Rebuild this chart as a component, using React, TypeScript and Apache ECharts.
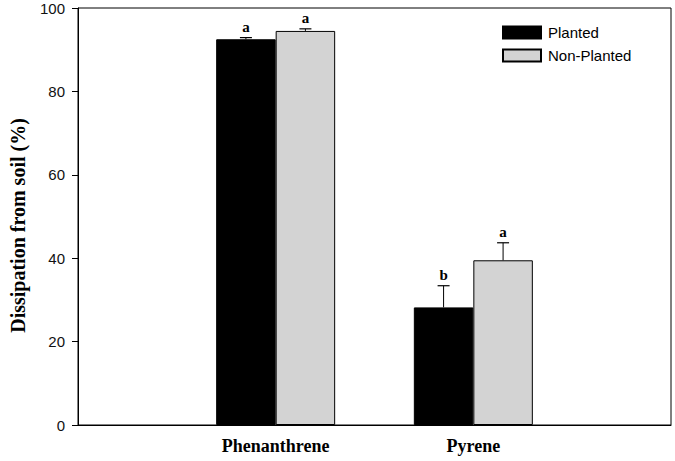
import React, { useEffect, useRef } from "react";
import * as echarts from "echarts";

const categories = ["Phenanthrene", "Pyrene"];
const seriesNames = ["Planted", "Non-Planted"];
const plantedMean = [92.5, 28.2];
const plantedErr = [0.4, 5.2];
const nonPlantedMean = [94.5, 39.5];
const nonPlantedErr = [0.5, 4.2];
const plantedLetters = ["a", "b"];
const nonPlantedLetters = ["a", "a"];
const yTicks = { min: 0, max: 100, interval: 20 };

const BAR_W = 59.5;

function errSeries(name: string, means: number[], errs: number[], letters: string[], offset: number) {
  return {
    type: "custom",
    name,
    z: 5,
    data: means.map((m, i) => [i + 1, m, m + errs[i]]),
    renderItem: (params: any, api: any) => {
      const idx = api.value(0);
      const mean = api.value(1);
      const top = api.value(2);
      const base = api.coord([idx, mean]);
      const tip = api.coord([idx, top]);
      const x = base[0] + offset;
      return {
        type: "group",
        children: [
          { type: "line", shape: { x1: x, y1: base[1], x2: x, y2: tip[1] }, style: { stroke: "#000", lineWidth: 1 } },
          { type: "line", shape: { x1: x - 6, y1: tip[1], x2: x + 6, y2: tip[1] }, style: { stroke: "#000", lineWidth: 1.2 } },
          {
            type: "text",
            x,
            y: tip[1] - 3,
            style: {
              text: letters[params.dataIndex],
              textAlign: "center",
              textVerticalAlign: "bottom",
              font: 'bold 15px "Liberation Serif", "Times New Roman", serif',
              fill: "#000",
            },
          },
        ],
      };
    },
  };
}

export default function App() {
  const ref = useRef<HTMLDivElement>(null);
  useEffect(() => {
    document.body.style.margin = "0";
    const chart = echarts.init(ref.current!, null, { renderer: "svg" });
    const axisData = ["", ...categories, ""];
    chart.setOption({
      animation: false,
      backgroundColor: "#fff",
      grid: { left: 77, right: 4, top: 8, bottom: 36, show: true, borderColor: "#000", borderWidth: 1 },
      legend: {
        data: seriesNames.map((n) => ({ name: n, icon: "rect" })),
        orient: "vertical",
        left: 497,
        top: 20,
        itemWidth: 38,
        itemHeight: 12,
        itemGap: 8,
        textStyle: { fontFamily: "Arial, 'Liberation Sans', sans-serif", fontSize: 15, color: "#000", padding: [0, 0, 0, 2] },
      },
      xAxis: {
        type: "category",
        data: axisData,
        boundaryGap: false,
        axisLine: { lineStyle: { color: "#000", width: 1 } },
        axisTick: { show: false },
        axisLabel: {
          interval: 0,
          margin: 12,
          fontFamily: "'Liberation Serif', 'Times New Roman', serif",
          fontWeight: "bold",
          fontSize: 18,
          color: "#000",
        },
        splitLine: { show: false },
      },
      yAxis: {
        type: "value",
        min: yTicks.min,
        max: yTicks.max,
        interval: yTicks.interval,
        name: "Dissipation from soil (%)",
        nameLocation: "middle",
        nameGap: 50,
        nameRotate: 90,
        nameTextStyle: {
          fontFamily: "'Liberation Serif', 'Times New Roman', serif",
          fontWeight: "bold",
          fontSize: 20,
          color: "#000",
          padding: [0, 18, 0, 0],
        },
        axisLine: { show: true, lineStyle: { color: "#000", width: 1 } },
        axisTick: { show: true, inside: false, length: 6, lineStyle: { color: "#000" } },
        axisLabel: { margin: 13, fontFamily: "Arial, 'Liberation Sans', sans-serif", fontSize: 15, color: "#111" },
        splitLine: { show: false },
      },
      series: [
        {
          type: "bar",
          name: seriesNames[0],
          data: [null, ...plantedMean, null],
          barWidth: BAR_W,
          barGap: "0%",
          itemStyle: { color: "#000", borderColor: "#000", borderWidth: 1 },
        },
        {
          type: "bar",
          name: seriesNames[1],
          data: [null, ...nonPlantedMean, null],
          barWidth: BAR_W,
          barGap: "0%",
          itemStyle: { color: "#d3d3d3", borderColor: "#000", borderWidth: 1 },
        },
        errSeries("errP", plantedMean, plantedErr, plantedLetters, -BAR_W / 2),
        errSeries("errN", nonPlantedMean, nonPlantedErr, nonPlantedLetters, BAR_W / 2),
      ],
    });
    return () => chart.dispose();
  }, []);
  return <div ref={ref} style={{ width: 675, height: 461 }} />;
}
